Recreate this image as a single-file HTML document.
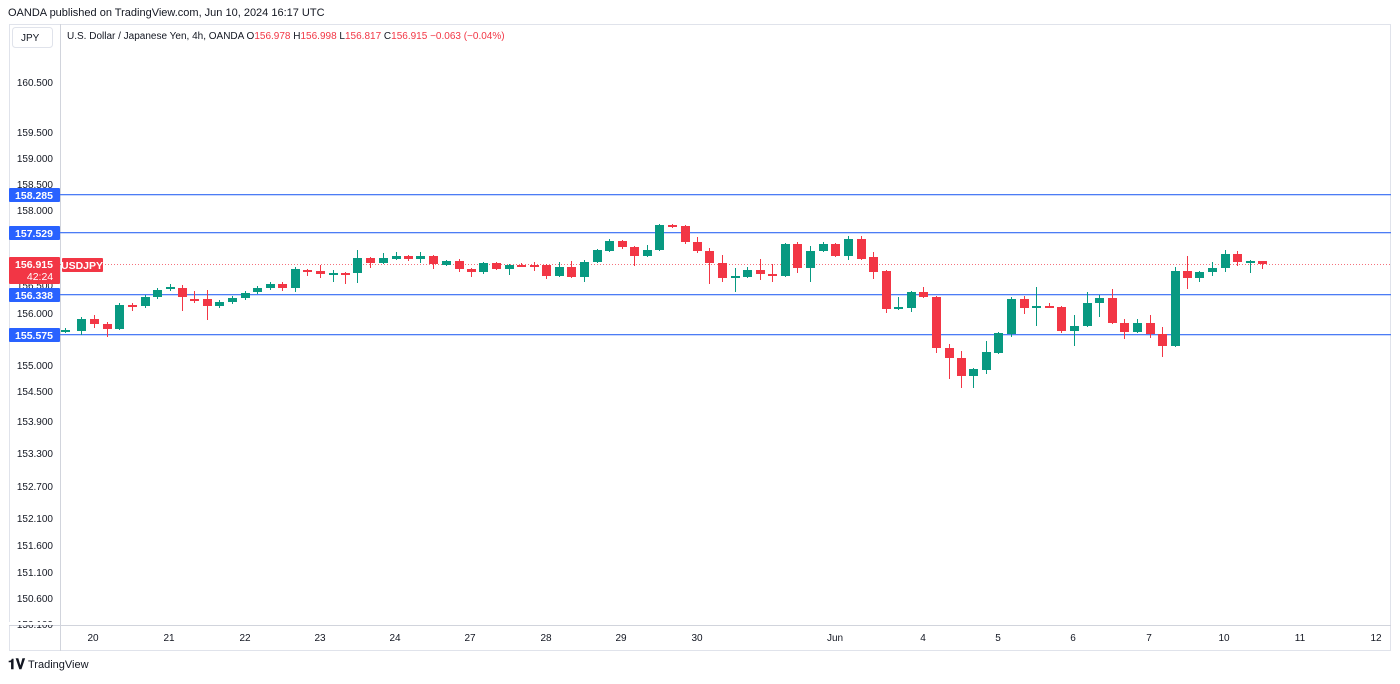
<!DOCTYPE html>
<html><head><meta charset="utf-8"><style>
body{margin:0;background:#fff;width:1400px;height:679px;overflow:hidden;font-family:"Liberation Sans",sans-serif}
</style></head><body>
<svg width="1400" height="679" xmlns="http://www.w3.org/2000/svg" font-family="Liberation Sans, sans-serif">
<text x="8" y="16" font-size="11" fill="#131722">OANDA published on TradingView.com, Jun 10, 2024 16:17 UTC</text>
<rect x="9.5" y="24.5" width="1381" height="626" fill="none" stroke="#e0e3eb"/>
<rect x="60" y="24" width="1" height="627" fill="#d1d4dc"/>
<rect x="9" y="625" width="1382" height="1" fill="#d1d4dc"/>
<rect x="12.5" y="27.5" width="40" height="20" rx="3" fill="#fff" stroke="#e0e3eb"/>
<text x="21" y="41" font-size="10" fill="#131722">JPY</text>
<text x="67" y="39" font-size="10" fill="#131722">U.S. Dollar / Japanese Yen, 4h, OANDA <tspan fill="#131722">O</tspan><tspan fill="#f23645">156.978</tspan> H<tspan fill="#f23645">156.998</tspan> L<tspan fill="#f23645">156.817</tspan> C<tspan fill="#f23645">156.915</tspan> <tspan fill="#f23645">−0.063 (−0.04%)</tspan></text>
<g font-size="10" fill="#131722" text-anchor="end">
<text x="53" y="86">160.500</text><text x="53" y="136">159.500</text><text x="53" y="162">159.000</text><text x="53" y="188">158.500</text><text x="53" y="214">158.000</text><text x="53" y="289">156.500</text><text x="53" y="317">156.000</text><text x="53" y="369">155.000</text><text x="53" y="395">154.500</text><text x="53" y="425">153.900</text><text x="53" y="457">153.300</text><text x="53" y="490">152.700</text><text x="53" y="522">152.100</text><text x="53" y="549">151.600</text><text x="53" y="576">151.100</text><text x="53" y="602">150.600</text><text x="53" y="628">150.100</text>
</g>
<rect x="9" y="622" width="51" height="3" fill="#fff"/>
<g fill="#4c7cf5">
<rect x="60" y="194" width="1331" height="1.3"/><rect x="60" y="232" width="1331" height="1.3"/><rect x="60" y="294" width="1331" height="1.3"/><rect x="60" y="334" width="1331" height="1.3"/>
</g>
<line x1="60" y1="264.5" x2="1391" y2="264.5" stroke="#f23645" stroke-dasharray="1,2" opacity="0.7"/>
<g font-size="10.5" fill="#fff" font-weight="bold" text-anchor="middle">
<rect x="9" y="188" width="51" height="14" fill="#2962ff" rx="1"/><text x="34" y="199">158.285</text>
<rect x="9" y="226" width="51" height="14" fill="#2962ff" rx="1"/><text x="34" y="237">157.529</text>
<rect x="9" y="288" width="51" height="14" fill="#2962ff" rx="1"/><text x="34" y="299">156.338</text>
<rect x="9" y="328" width="51" height="14" fill="#2962ff" rx="1"/><text x="34" y="339">155.575</text>
<rect x="9" y="257" width="51" height="27" fill="#f23645" rx="1"/><text x="34" y="268">156.915</text><text x="40" y="280" font-weight="normal">42:24</text>
<rect x="62" y="258" width="41" height="14" fill="#f23645" rx="1"/><text x="82" y="269">USDJPY</text>
</g>
<g id="c"></g>
<g font-size="10" fill="#131722" text-anchor="middle">
<text x="93" y="641">20</text><text x="169" y="641">21</text><text x="245" y="641">22</text><text x="320" y="641">23</text><text x="395" y="641">24</text><text x="470" y="641">27</text><text x="546" y="641">28</text><text x="621" y="641">29</text><text x="697" y="641">30</text><text x="835" y="641">Jun</text><text x="923" y="641">4</text><text x="998" y="641">5</text><text x="1073" y="641">6</text><text x="1149" y="641">7</text><text x="1224" y="641">10</text><text x="1300" y="641">11</text><text x="1376" y="641">12</text>
</g>
<text x="8" y="669" font-size="14" font-weight="bold" fill="#131722">𝟏𝐕</text>
<text x="28" y="668" font-size="11" fill="#131722">TradingView</text>
</svg>
<script>
var d=[[65,331,330,328,333],[81,331,319,317,335],[94,319,324,315,328],[107,324,329,322,337],[119,329,305,303,330],[132,305,307,303,311],[145,306,297,295,308],[157,297,290,288,299],[170,288,287,284,291],[182,288,297,285,311],[194,299,299,291,303],[207,299,306,290,320],[219,306,302,300,308],[232,302,298,296,304],[245,298,293,291,300],[257,292,288,286,294],[270,288,284,282,290],[282,284,288,282,291],[295,288,269,267,292],[307,270,271,269,276],[320,271,274,265,278],[333,274,273,270,282],[345,273,273,272,284],[357,273,258,250,283],[370,258,263,257,268],[383,263,258,253,264],[396,259,256,252,260],[408,256,259,255,261],[420,259,256,252,263],[433,256,264,255,269],[446,265,261,260,266],[459,261,269,259,272],[471,269,272,268,277],[483,272,263,262,274],[496,263,269,262,270],[509,269,265,264,275],[521,265,265,263,267],[534,265,265,262,271],[546,265,276,264,279],[559,276,267,262,277],[571,267,277,261,278],[584,277,262,260,282],[597,262,250,249,263],[609,251,241,239,252],[622,241,247,240,249],[634,247,256,246,266],[647,256,250,245,257],[659,250,225,224,251],[672,225,226,224,228],[685,226,242,225,244],[697,242,251,237,253],[709,251,263,248,284],[722,263,278,255,282],[735,278,276,268,292],[747,277,270,267,278],[760,270,274,259,280],[772,274,276,264,282],[785,276,244,243,277],[797,244,268,242,273],[810,268,251,246,282],[823,251,244,242,252],[835,244,256,243,257],[848,256,239,236,260],[861,239,259,236,260],[873,257,272,252,279],[886,271,309,270,313],[898,309,307,297,310],[911,308,292,291,312],[923,292,297,287,298],[936,297,348,296,353],[949,348,358,344,379],[961,358,376,351,388],[973,376,369,368,388],[986,370,352,341,374],[998,353,333,332,354],[1011,334,299,297,337],[1024,299,308,296,314],[1036,307,306,287,326],[1049,306,307,303,308],[1061,307,331,306,333],[1074,331,326,315,346],[1087,326,303,292,327],[1099,303,298,295,317],[1112,298,323,289,324],[1124,323,332,319,339],[1137,332,323,319,333],[1150,323,334,315,338],[1162,334,346,327,357],[1175,346,271,267,347],[1187,271,278,256,289],[1199,278,272,271,282],[1212,272,268,262,276],[1225,268,254,250,272],[1237,254,262,251,266],[1250,262,261,260,273],[1262,261,264,261,269]];
var s='';d.forEach(function(c){var x=c[0],o=c[1],cl=c[2],h=c[3],l=c[4];var col=cl<o?'#089981':'#f23645';if(cl==o)col=(x==1036||x==65||x==170||x==333)?'#089981':'#f23645';var t=Math.min(o,cl),b=Math.max(o,cl);if(b-t<2)b=t+2;
s+='<rect x="'+x+'" y="'+h+'" width="1" height="'+(l-h)+'" fill="'+col+'"/>';
s+='<rect x="'+(x-4)+'" y="'+t+'" width="9" height="'+(b-t)+'" fill="'+col+'"/>';});
document.getElementById('c').innerHTML=s;
</script>
</body></html>
